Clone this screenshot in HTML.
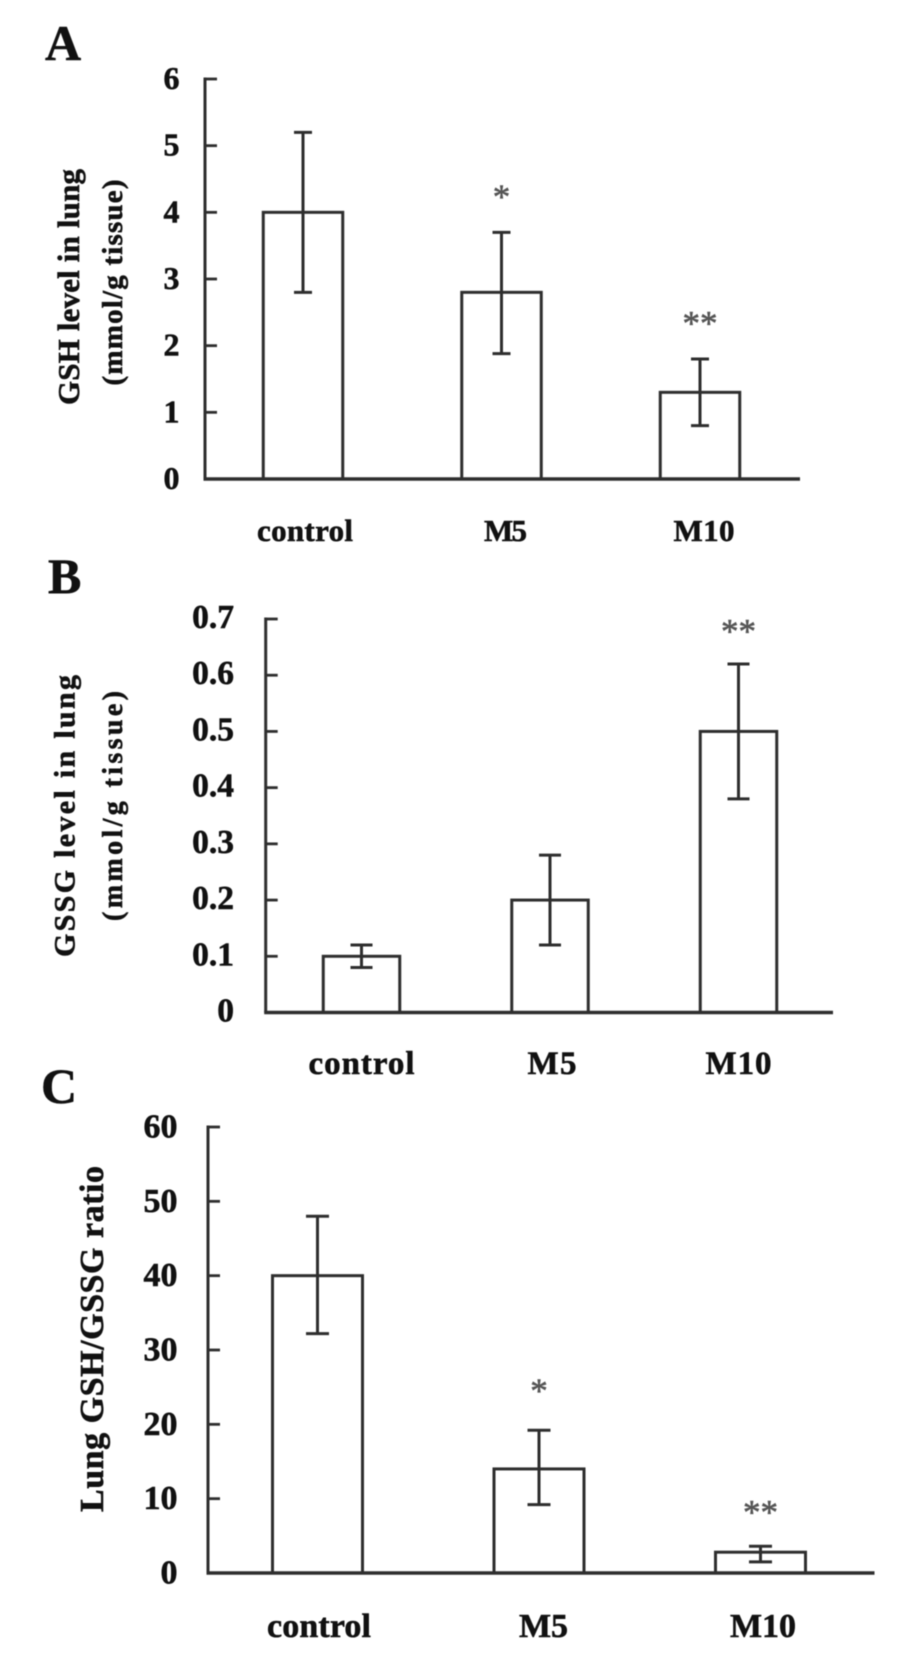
<!DOCTYPE html>
<html lang="en">
<head>
<meta charset="utf-8">
<title>GSH and GSSG levels in lung</title>
<style>
html,body{margin:0;padding:0;background:#fff;}
body{width:898px;height:1669px;overflow:hidden;}
#figure{display:block;filter:blur(0.6px);}
text{font-family:"Liberation Serif",serif;font-weight:bold;fill:#111;stroke:#111;stroke-width:0.55px;}
.mark{font-weight:normal;fill:#555;stroke:#555;stroke-width:0.6px;}
</style>
</head>
<body>
<svg id="figure" xmlns="http://www.w3.org/2000/svg" width="898" height="1669" viewBox="0 0 898 1669"></svg>
<script>
// Chart data
var categories = ['control', 'M5', 'M10'];

var gshValues = [4.0, 2.8, 1.3];
var gshErrLow = [2.8, 1.88, 0.8];
var gshErrHigh = [5.2, 3.7, 1.8];
var gshMarks = ['', '*', '**'];
var gshTicks = [0, 1, 2, 3, 4, 5, 6];
var gshTickLabels = ['0', '1', '2', '3', '4', '5', '6'];

var gssgValues = [0.1, 0.2, 0.5];
var gssgErrLow = [0.08, 0.12, 0.38];
var gssgErrHigh = [0.12, 0.28, 0.62];
var gssgMarks = ['', '', '**'];
var gssgTicks = [0, 0.1, 0.2, 0.3, 0.4, 0.5, 0.6, 0.7];
var gssgTickLabels = ['0', '0.1', '0.2', '0.3', '0.4', '0.5', '0.6', '0.7'];

var ratioValues = [40, 14, 2.8];
var ratioErrLow = [32.2, 9.2, 1.5];
var ratioErrHigh = [48, 19.2, 3.6];
var ratioMarks = ['', '*', '**'];
var ratioTicks = [0, 10, 20, 30, 40, 50, 60];
var ratioTickLabels = ['0', '10', '20', '30', '40', '50', '60'];

var NS = 'http://www.w3.org/2000/svg';
var svg = document.getElementById('figure');
var INK = '#2e2e2e';

function make(tag, parent, props) {
  var node = document.createElementNS(NS, tag);
  for (var k in props) node.setAttribute(k, props[k]);
  parent.appendChild(node);
  return node;
}

function drawPanel(p) {
  var yMax = p.ticks[p.ticks.length - 1];
  function yScale(v) { return p.y0 - (v / yMax) * (p.y0 - p.yTop); }
  function xCenter(i) { return p.xFirst + i * p.xStep; }

  var g = make('g', svg, {});
  
  

  var letter = make('text', g, { x: p.letterX, y: p.letterY, 'font-size': 50 });
  letter.textContent = p.letter;
  
  

  p.titles.forEach(function (t, i) {
    var title = make('text', g, {
      transform: 'translate(' + t.x + ',' + t.y + ') rotate(-90)',
      'text-anchor': 'middle', 'font-size': t.size,
      textLength: t.len, lengthAdjust: 'spacing'
    });
    title.textContent = t.text;
    
    
  });

  categories.forEach(function (cat, i) {
    var v = p.values[i];
    var cx = xCenter(i);
    var top = yScale(v);
    var bar = make('rect', g, {
      x: cx - p.barW / 2, y: top, width: p.barW, height: p.y0 - top,
      fill: '#fff', stroke: INK, 'stroke-width': 3
    });
    
    

    var hi = yScale(p.errHigh[i]);
    var lo = yScale(p.errLow[i]);
    var err = make('path', g, {
      d: 'M' + cx + ' ' + hi + 'V' + lo +
         'M' + (cx - p.capW) + ' ' + hi + 'H' + (cx + p.capW) +
         'M' + (cx - p.capW) + ' ' + lo + 'H' + (cx + p.capW),
      fill: 'none', stroke: INK, 'stroke-width': 3
    });
    
    

    if (p.marks[i]) {
      var mark = make('text', g, {
        x: cx, y: hi - p.markGap[i], 'text-anchor': 'middle',
        'font-size': p.markSize, 'class': 'mark'
      });
      mark.textContent = p.marks[i];
      
      
    }

    var label = make('text', g, {
      x: cx + p.labelShift[i], y: p.labelY, 'text-anchor': 'middle',
      'font-size': p.labelSize, textLength: p.labelLen[i], lengthAdjust: 'spacing'
    });
    label.textContent = cat;
    
    
  });

  var yAxis = make('line', g, {
    x1: p.x0, x2: p.x0, y1: p.yTop - 1.5, y2: p.y0, stroke: INK, 'stroke-width': 3
  });
  
  

  var xAxis = make('line', g, {
    x1: p.x0 - 1.5, x2: p.xEnd, y1: p.y0, y2: p.y0, stroke: INK, 'stroke-width': 3.6
  });
  
  

  p.ticks.forEach(function (t, i) {
    var y = yScale(t);
    var tick = make('line', g, {
      x1: p.x0, x2: p.x0 + 12, y1: y, y2: y, stroke: INK, 'stroke-width': 2.8
    });
    
    

    var tl = make('text', g, {
      x: p.tickLabelX, y: y + p.tickLabelDy, 'text-anchor': 'end', 'font-size': p.tickSize
    });
    tl.textContent = p.tickLabels[i];
    
    
  });
}

drawPanel({
  id: 'gsh', letter: 'A', letterX: 45, letterY: 60,
  values: gshValues, errLow: gshErrLow, errHigh: gshErrHigh, marks: gshMarks,
  ticks: gshTicks, tickLabels: gshTickLabels,
  x0: 205, xEnd: 800, y0: 479, yTop: 79,
  xFirst: 303, xStep: 198.5, barW: 79.5, capW: 9,
  tickLabelX: 179.5, tickSize: 32, tickLabelDy: 10,
  labelY: 541, labelSize: 31, labelShift: [2, 4, 4], labelLen: [96, 43, 61],
  markGap: [0, 24, 24], markSize: 35,
  titles: [
    { text: 'GSH level in lung', x: 79, y: 287, size: 31, len: 236 },
    { text: '(mmol/g tissue)', x: 122, y: 282.5, size: 29, len: 206 }
  ]
});

drawPanel({
  id: 'gssg', letter: 'B', letterX: 48, letterY: 593,
  values: gssgValues, errLow: gssgErrLow, errHigh: gssgErrHigh, marks: gssgMarks,
  ticks: gssgTicks, tickLabels: gssgTickLabels,
  x0: 265.7, xEnd: 833, y0: 1012.5, yTop: 619,
  xFirst: 361.5, xStep: 188.5, barW: 76.5, capW: 11,
  tickLabelX: 234, tickSize: 33.5, tickLabelDy: 9,
  labelY: 1074, labelSize: 33, labelShift: [0, 2, 0], labelLen: [106, 49, 66],
  markGap: [0, 0, 21], markSize: 35,
  titles: [
    { text: 'GSSG level in lung', x: 74.5, y: 816, size: 30, len: 282 },
    { text: '(mmol/g tissue)', x: 122, y: 806, size: 28, len: 230 }
  ]
});

drawPanel({
  id: 'ratio', letter: 'C', letterX: 41, letterY: 1103,
  values: ratioValues, errLow: ratioErrLow, errHigh: ratioErrHigh, marks: ratioMarks,
  ticks: ratioTicks, tickLabels: ratioTickLabels,
  x0: 208, xEnd: 874.5, y0: 1573, yTop: 1127,
  xFirst: 317.5, xStep: 221.5, barW: 90, capW: 11.5,
  tickLabelX: 177.5, tickSize: 34, tickLabelDy: 10.5,
  labelY: 1637, labelSize: 34, labelShift: [1.5, 4.5, 2.5], labelLen: [104, 49, 66],
  markGap: [0, 28, 22], markSize: 35,
  titles: [
    { text: 'Lung GSH/GSSG ratio', x: 103, y: 1339, size: 34, len: 346 }
  ]
});
</script>
</body>
</html>
